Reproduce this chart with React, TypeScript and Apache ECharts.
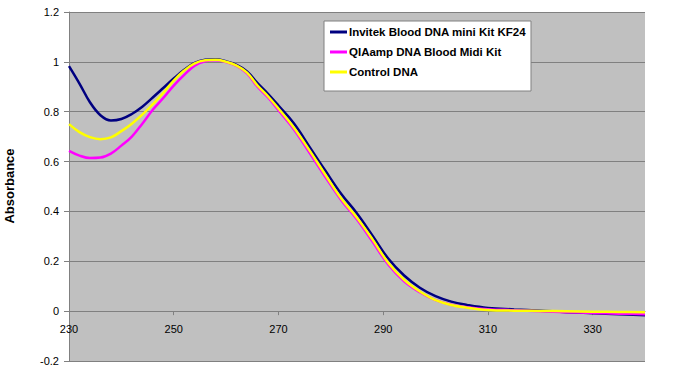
import React, { useEffect, useRef } from "react";
import * as echarts from "echarts";

const wavelengths = [230, 232, 234, 236, 238, 240, 242, 244, 246, 248, 250, 252, 254, 256, 258, 260, 262, 264, 266, 268, 270, 273, 276, 279, 282, 285, 288, 291, 294, 297, 300, 303, 306, 310, 315, 320, 325, 330, 335, 340];

const invitek = [0.983, 0.913, 0.838, 0.786, 0.765, 0.771, 0.791, 0.82, 0.857, 0.895, 0.933, 0.968, 0.996, 1.008, 1.01, 1.002, 0.988, 0.962, 0.915, 0.872, 0.825, 0.752, 0.657, 0.562, 0.47, 0.392, 0.302, 0.21, 0.143, 0.094, 0.06, 0.038, 0.025, 0.013, 0.007, 0.002, -0.004, -0.008, -0.012, -0.016];

const qiaamp = [0.643, 0.624, 0.614, 0.616, 0.632, 0.664, 0.7, 0.752, 0.808, 0.855, 0.905, 0.948, 0.985, 1.002, 1.006, 0.999, 0.984, 0.954, 0.9, 0.857, 0.806, 0.728, 0.633, 0.537, 0.445, 0.368, 0.278, 0.186, 0.12, 0.076, 0.044, 0.026, 0.016, 0.008, 0.004, 0.0, -0.004, -0.007, -0.01, -0.012];

const control = [0.75, 0.718, 0.698, 0.69, 0.697, 0.722, 0.752, 0.788, 0.83, 0.875, 0.925, 0.965, 0.994, 1.006, 1.008, 1.0, 0.985, 0.957, 0.905, 0.862, 0.813, 0.735, 0.643, 0.546, 0.452, 0.375, 0.287, 0.193, 0.126, 0.079, 0.044, 0.025, 0.014, 0.005, 0.002, 0.001, 0.0, -0.002, -0.003, -0.004];

const seriesNames = ["Invitek Blood DNA mini Kit KF24", "QIAamp DNA Blood Midi Kit", "Control DNA"];
const seriesColors = ["#000080", "#FF00FF", "#FFFF00"];
const seriesValues = [invitek, qiaamp, control];

const yAxisTitle = "Absorbance";

const FONT = 'Arial, "Liberation Sans", sans-serif';

const GRID_TOP = 12;
const GRID_BOTTOM = 14;
const Y_MIN = -0.2;
const Y_MAX = 1.2;

export default function App() {
  const ref = useRef<HTMLDivElement>(null);
  useEffect(() => {
    if (!ref.current) return;
    const chart = echarts.init(ref.current, undefined, { renderer: "svg" });
    const plotH = 375 - GRID_TOP - GRID_BOTTOM;
    const zeroOffset = -((0 - Y_MIN) / (Y_MAX - Y_MIN)) * plotH;
    chart.setOption({
      animation: false,
      textStyle: { fontFamily: FONT },
      grid: {
        left: 69,
        right: 48,
        top: GRID_TOP,
        bottom: GRID_BOTTOM,
        show: true,
        backgroundColor: "#C0C0C0",
        borderWidth: 0,
      },
      legend: {
        orient: "vertical",
        left: 324,
        top: 21,
        padding: [4, 5, 12, 6],
        itemWidth: 17,
        itemHeight: 3,
        itemGap: 6,
        icon: "rect",
        backgroundColor: "#FFFFFF",
        borderColor: "#808080",
        borderWidth: 1,
        borderRadius: 0,
        textStyle: { fontFamily: FONT, fontSize: 11.5, fontWeight: "bold", color: "#000", lineHeight: 14, padding: [0, 0, 0, -3] },
        data: seriesNames,
      },
      xAxis: {
        type: "value",
        min: 230,
        max: 340,
        interval: 20,
        position: "bottom",
        offset: zeroOffset,
        axisLine: { onZero: false, lineStyle: { color: "#808080", width: 1 } },
        axisTick: { show: true, length: 4, lineStyle: { color: "#808080" } },
        axisLabel: { fontSize: 11, color: "#000", margin: 12, fontFamily: FONT, showMaxLabel: false },
        splitLine: { show: false },
      },
      yAxis: {
        type: "value",
        min: Y_MIN,
        max: Y_MAX,
        interval: 0.2,
        axisLine: { show: true, onZero: false, lineStyle: { color: "#808080", width: 1 } },
        axisTick: { show: true, length: 5, lineStyle: { color: "#808080" } },
        axisLabel: {
          fontSize: 11,
          color: "#000",
          margin: 10,
          fontFamily: FONT,
          formatter: (v: number) => String(Math.round(v * 10) / 10),
        },
        splitLine: { show: true, lineStyle: { color: "#808080", width: 1 } },
      },
      graphic: [
        {
          type: "text",
          x: 9,
          y: 186,
          rotation: Math.PI / 2,
          style: {
            text: yAxisTitle,
            fontFamily: FONT,
            fontSize: 13,
            fontWeight: "bold",
            fill: "#000",
            align: "center",
            verticalAlign: "middle",
          },
        },
      ],
      series: seriesNames.map((name, i) => ({
        name,
        type: "line",
        symbol: "none",
        smooth: 0.4,
        color: seriesColors[i],
        lineStyle: { color: seriesColors[i], width: 2.5 },
        data: wavelengths.map((w, j) => [w, seriesValues[i][j]]),
        z: 2 + i,
      })),
    });
    return () => chart.dispose();
  }, []);
  return <div ref={ref} style={{ width: 693, height: 375, position: "absolute", left: 0, top: 0 }} />;
}
